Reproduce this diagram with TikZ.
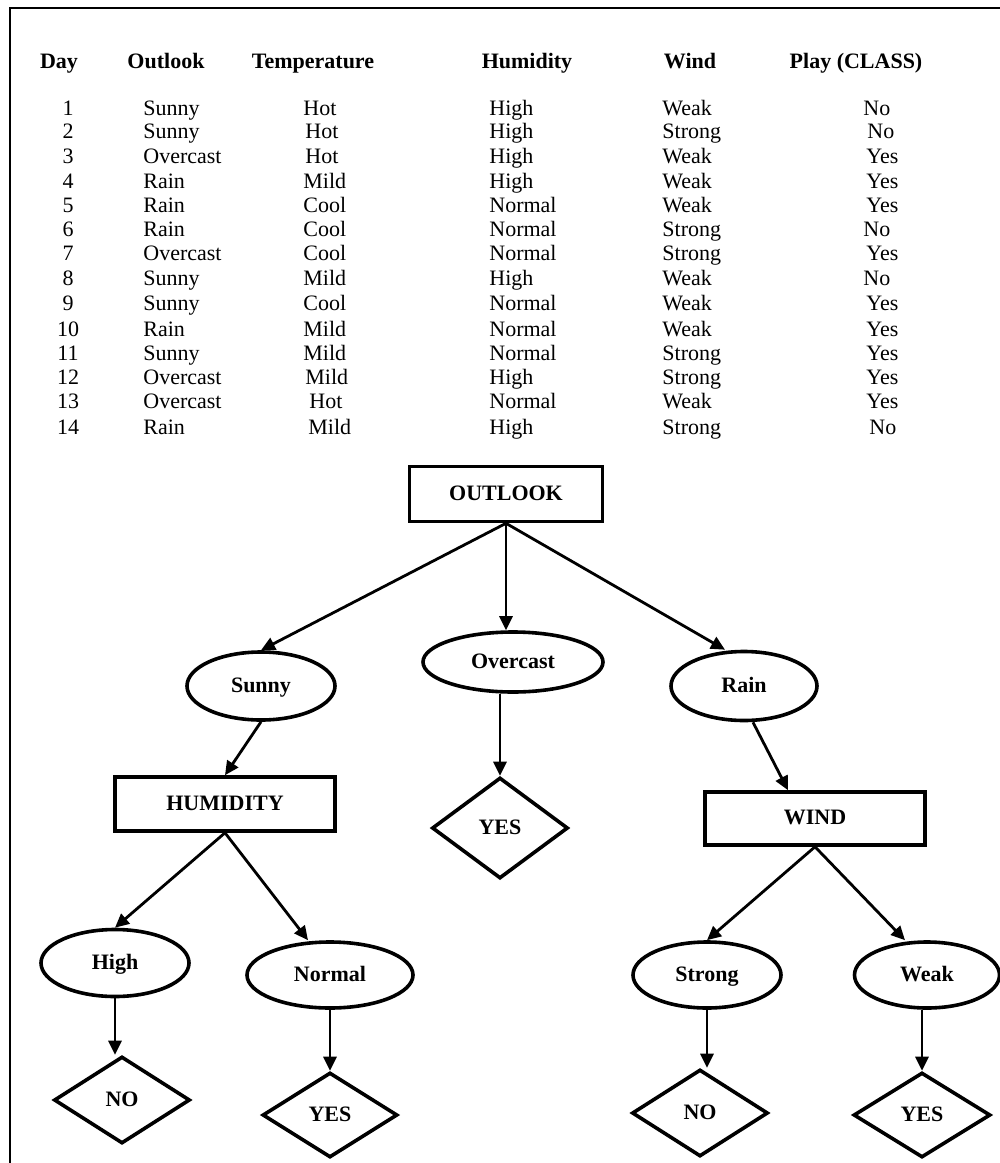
\documentclass[tikz,border=0pt]{standalone}
\usepackage{fontspec}
\setmainfont{Liberation Serif}
\usetikzlibrary{shapes.geometric,arrows.meta}
\begin{document}
\begin{tikzpicture}[x=0.5pt,y=-0.5pt,
  txt/.style={inner sep=0pt,font=\fontsize{11pt}{13pt}\selectfont},
  cell/.style={txt,anchor=base west},
  num/.style={txt,anchor=base},
  head/.style={inner sep=0pt,anchor=base,font=\fontsize{11pt}{13pt}\selectfont\bfseries},
  lbl/.style={font=\fontsize{11pt}{13pt}\selectfont\bfseries,inner sep=0pt,line width=1.8pt,draw,text height=8pt,text depth=2pt},
  attrbox/.style={lbl,rectangle},
  valnode/.style={lbl,ellipse},
  leafnode/.style={lbl,diamond},
  arr/.style={line width=1.4pt,-{Triangle[length=7pt,width=6.5pt]}},
  frame/.style={line width=1.1pt}
]
\clip (0,0) rectangle (1000,1163);
\draw[frame] (10,8) rectangle (1030,1190);

% table header
\node[head] (hday) at (59,68) {Day};
\node[head] (hout) at (166,68) {Outlook};
\node[head] (htemp) at (313,68) {Temperature};
\node[head] (hhum) at (527,68) {Humidity};
\node[head] (hwind) at (690,68) {Wind};
\node[head] (hplay) at (856,68) {Play (CLASS)};

% table rows
\foreach \d/\y/\o/\t/\tx/\h/\w/\p/\px in {
  1/115/Sunny/Hot/303/High/Weak/No/863,
  2/138/Sunny/Hot/305/High/Strong/No/867,
  3/163/Overcast/Hot/305/High/Weak/Yes/866,
  4/188/Rain/Mild/303/High/Weak/Yes/866,
  5/212/Rain/Cool/303/Normal/Weak/Yes/866,
  6/236/Rain/Cool/303/Normal/Strong/No/863,
  7/260/Overcast/Cool/303/Normal/Strong/Yes/866,
  8/285/Sunny/Mild/303/High/Weak/No/863,
  9/310/Sunny/Cool/303/Normal/Weak/Yes/866,
  10/336/Rain/Mild/303/Normal/Weak/Yes/866,
  11/360/Sunny/Mild/303/Normal/Strong/Yes/866,
  12/384/Overcast/Mild/305/High/Strong/Yes/866,
  13/408/Overcast/Hot/309/Normal/Weak/Yes/866,
  14/434/Rain/Mild/308/High/Strong/No/869}{
  \node[num] (day\d) at (68,\y) {\d};
  \node[cell] (out\d) at (143,\y) {\o};
  \node[cell] (tmp\d) at (\tx,\y) {\t};
  \node[cell] (hum\d) at (489,\y) {\h};
  \node[cell] (wnd\d) at (662,\y) {\w};
  \node[cell] (ply\d) at (\px,\y) {\p};
}

% tree
\node[attrbox,minimum width=96.5pt,minimum height=27.5pt] (outlook) at (506,494) {OUTLOOK};
\node[valnode,minimum width=74pt,minimum height=34pt] (sunny) at (261,686) {Sunny};
\node[valnode,minimum width=90pt,minimum height=30pt] (overcast) at (513,662) {Overcast};
\node[valnode,minimum width=73pt,minimum height=34.5pt] (rain) at (744,686) {Rain};
\node[attrbox,minimum width=110pt,minimum height=27pt] (humidity) at (225,804) {HUMIDITY\hspace{20pt}};
\node[leafnode,minimum width=68pt,minimum height=50.5pt] (yesm) at (500,828) {YES};
\node[attrbox,minimum width=110pt,minimum height=26.5pt] (wind) at (815,818.5) {WIND};
\node[valnode,minimum width=74pt,minimum height=33.5pt] (high) at (115,963) {High\hspace{12pt}};
\node[valnode,minimum width=83pt,minimum height=33pt] (normal) at (330,975) {Normal};
\node[valnode,minimum width=74pt,minimum height=33pt] (strong) at (707,975) {Strong};
\node[valnode,minimum width=72.5pt,minimum height=33pt] (weak) at (927,975) {Weak};
\node[leafnode,minimum width=68pt,minimum height=43.5pt] (no1) at (122,1100) {NO};
\node[leafnode,minimum width=67.5pt,minimum height=42.5pt] (yes1) at (330,1115) {YES};
\node[leafnode,minimum width=68pt,minimum height=43.5pt] (no2) at (700,1113) {NO};
\node[leafnode,minimum width=68.5pt,minimum height=42.5pt] (yes2) at (922,1115) {YES};

\draw[arr] (outlook.south) -- (sunny.north);
\draw[arr] (outlook.south) -- (outlook.south |- overcast.north);
\draw[arr] (outlook.south) -- ([xshift=-9.5pt]rain.north);
\draw[arr] (sunny.south) -- (humidity.north);
\draw[arr] (yesm.north |- overcast.south) -- (yesm.north);
\draw[arr] ([xshift=4.5pt]rain.south) -- ([xshift=-13.5pt]wind.north);
\draw[arr] (humidity.south) -- (high.north);
\draw[arr] (humidity.south) -- ([xshift=-11pt]normal.north);
\draw[arr] (wind.south) -- (strong.north);
\draw[arr] (wind.south) -- ([xshift=-11pt]weak.north);
\draw[arr] (high.south) -- (high.south |- no1.north);
\draw[arr] (normal.south) -- (yes1.north);
\draw[arr] (strong.south) -- (strong.south |- no2.north);
\draw[arr] (yes2.north |- weak.south) -- (yes2.north);
\end{tikzpicture}
\end{document}
